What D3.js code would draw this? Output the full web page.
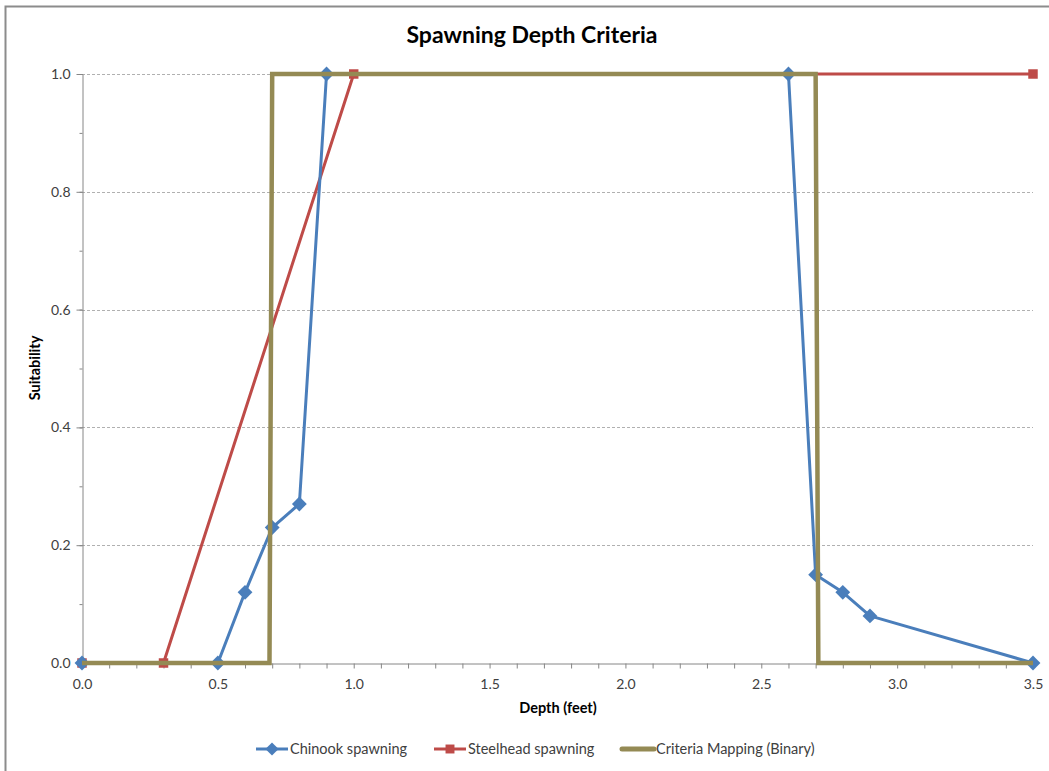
<!DOCTYPE html>
<html>
<head>
<meta charset="utf-8">
<script src="https://cdn.jsdelivr.net/npm/d3@7"></script>
<style>
  html, body { margin: 0; padding: 0; background: #fff; }
  svg { display: block; font-family: Lato, "Open Sans", sans-serif; }
</style>
</head>
<body>
<svg id="chart" width="1049" height="771"></svg>
<script>
const chartTitle = "Spawning Depth Criteria";
const xTitle = "Depth (feet)";
const yTitle = "Suitability";

const chinookX = [0.0, 0.5, 0.6, 0.7, 0.8, 0.9, 2.6, 2.7, 2.8, 2.9, 3.5];
const chinookY = [0.0, 0.0, 0.12, 0.23, 0.27, 1.0, 1.0, 0.15, 0.12, 0.08, 0.0];

const steelheadX = [0.0, 0.3, 1.0, 3.5];
const steelheadY = [0.0, 0.0, 1.0, 1.0];

const binaryX = [0.0, 0.69, 0.70, 2.70, 2.71, 3.5];
const binaryY = [0.0, 0.0, 1.0, 1.0, 0.0, 0.0];

const xTicks = [0.0, 0.5, 1.0, 1.5, 2.0, 2.5, 3.0, 3.5];
const yTicks = [0.0, 0.2, 0.4, 0.6, 0.8, 1.0];
const xMinorTicks = d3.range(0, 36).map(i => i / 10);
const yMinorTicks = d3.range(0, 11).map(i => i / 10);

const seriesNames = ["Chinook spawning", "Steelhead spawning", "Criteria Mapping (Binary)"];
const seriesColors = ["#4A7EBB", "#BE4B48", "#948A54"];

const svg = d3.select("#chart");

// outer frame (left and top visible)
svg.append("path")
  .attr("d", "M5.5,775 L5.5,6.5 L1055,6.5")
  .attr("fill", "none").attr("stroke", "#8c8c8c").attr("stroke-width", 2);

const x = d3.scaleLinear().domain([0, 3.5]).range([82, 1033]);
const y = d3.scaleLinear().domain([0, 1]).range([663, 74]);

// gridlines
svg.append("g").selectAll("line").data(yTicks.filter(d => d > 0)).join("line")
  .attr("x1", x(0)).attr("x2", x(3.5))
  .attr("y1", d => Math.round(y(d)) + 0.5).attr("y2", d => Math.round(y(d)) + 0.5)
  .attr("stroke", "#b0b0b0").attr("stroke-width", 1).attr("stroke-dasharray", "3,2");

// x axis
const gx = svg.append("g").attr("transform", `translate(0,${Math.round(y(0)) + 0.5})`);
gx.call(d3.axisBottom(x).tickValues(xMinorTicks).tickSize(5).tickFormat(""));
gx.select(".domain").attr("stroke", "#868686");
gx.selectAll(".tick line").attr("stroke", "#868686");
const gxl = svg.append("g").attr("transform", `translate(0,${Math.round(y(0)) + 0.5})`);
gxl.call(d3.axisBottom(x).tickValues(xTicks).tickSize(0).tickPadding(16).tickFormat(d3.format(".1f")));
gxl.select(".domain").remove();
gxl.selectAll("text").attr("font-size", 14).attr("fill", "#404040").attr("font-family", "Lato, sans-serif");

// y axis
const gy = svg.append("g").attr("transform", `translate(${Math.round(x(0)) + 0.5},0)`);
gy.call(d3.axisLeft(y).tickValues(yMinorTicks).tickSize(3).tickFormat(""));
gy.select(".domain").attr("stroke", "#868686");
gy.selectAll(".tick line").attr("stroke", "#868686");
const gyl = svg.append("g").attr("transform", `translate(${Math.round(x(0)) + 0.5},0)`);
gyl.call(d3.axisLeft(y).tickValues(yTicks).tickSize(6).tickPadding(6).tickFormat(d3.format(".1f")));
gyl.select(".domain").remove();
gyl.selectAll(".tick line").attr("stroke", "#868686");
gyl.selectAll("text").attr("font-size", 14).attr("fill", "#404040").attr("font-family", "Lato, sans-serif");

// titles
svg.append("text").attr("x", 532).attr("y", 43).attr("text-anchor", "middle")
  .attr("font-size", 23).attr("font-weight", "bold").attr("fill", "#000").text(chartTitle);
svg.append("text").attr("x", 558).attr("y", 713).attr("text-anchor", "middle")
  .attr("font-size", 14.5).attr("font-weight", "bold").attr("fill", "#000").text(xTitle);
svg.append("text").attr("transform", "translate(40,368) rotate(-90)").attr("text-anchor", "middle")
  .attr("font-size", 14.5).attr("font-weight", "bold").attr("fill", "#000").text(yTitle);

const line = d3.line().x(d => x(d[0])).y(d => y(d[1]));
const chinook = d3.zip(chinookX, chinookY);
const steelhead = d3.zip(steelheadX, steelheadY);
const binary = d3.zip(binaryX, binaryY);

const diamond = d3.symbol().type(d3.symbolDiamond2).size(140);
const square = d3.symbol().type(d3.symbolSquare).size(90);

// steelhead
svg.append("path").datum(steelhead).attr("d", line).attr("fill", "none")
  .attr("stroke", seriesColors[1]).attr("stroke-width", 3).attr("stroke-linejoin", "round");
svg.append("g").selectAll("path").data(steelhead).join("path")
  .attr("d", square).attr("transform", d => `translate(${x(d[0])},${y(d[1])})`)
  .attr("fill", seriesColors[1]);

// chinook
svg.append("path").datum(chinook).attr("d", line).attr("fill", "none")
  .attr("stroke", seriesColors[0]).attr("stroke-width", 3).attr("stroke-linejoin", "round");
svg.append("g").selectAll("path").data(chinook).join("path")
  .attr("d", diamond).attr("transform", d => `translate(${x(d[0])},${y(d[1])})`)
  .attr("fill", seriesColors[0]);

// binary
svg.append("path").datum(binary).attr("d", line).attr("fill", "none")
  .attr("stroke", seriesColors[2]).attr("stroke-width", 4.5).attr("stroke-linejoin", "miter");

// legend
const legendItems = [
  { name: seriesNames[0], color: seriesColors[0], x0: 256, marker: "d" },
  { name: seriesNames[1], color: seriesColors[1], x0: 434, marker: "s" },
  { name: seriesNames[2], color: seriesColors[2], x0: 622, marker: null }
];
const ly = 749;
legendItems.forEach(it => {
  const g = svg.append("g");
  g.append("line").attr("x1", it.x0).attr("x2", it.x0 + 32).attr("y1", ly).attr("y2", ly)
    .attr("stroke", it.color).attr("stroke-width", it.marker ? 3 : 5).attr("stroke-linecap", it.marker ? "butt" : "round");
  if (it.marker === "d") {
    g.append("path").attr("d", d3.symbol().type(d3.symbolDiamond2).size(110)())
      .attr("transform", `translate(${it.x0 + 16},${ly})`).attr("fill", it.color);
  } else if (it.marker === "s") {
    g.append("path").attr("d", d3.symbol().type(d3.symbolSquare).size(80)())
      .attr("transform", `translate(${it.x0 + 16},${ly})`).attr("fill", it.color);
  }
  g.append("text").attr("x", it.x0 + 34).attr("y", ly + 5).attr("font-size", 14.5)
    .attr("fill", "#404040").text(it.name);
});
</script>
</body>
</html>
